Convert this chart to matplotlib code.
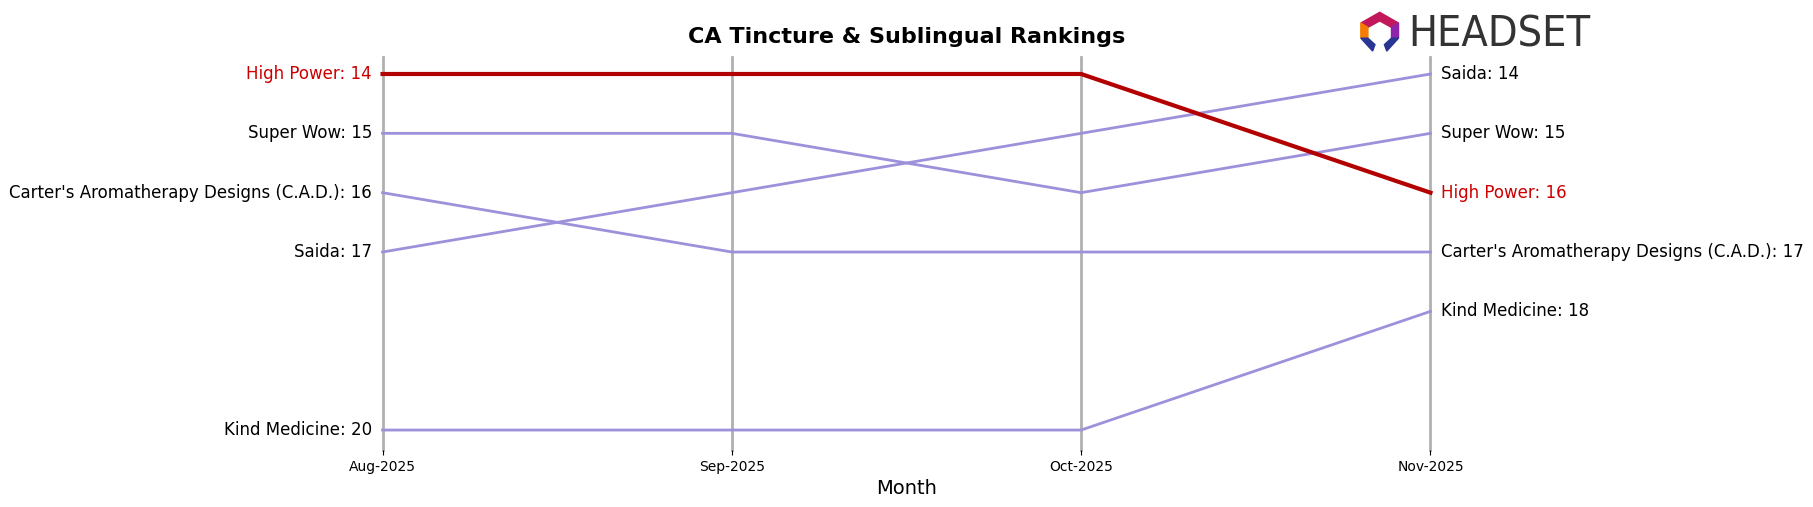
import matplotlib
matplotlib.use("Agg")
import matplotlib.pyplot as plt
from matplotlib.patches import Polygon

months = ["Aug-2025", "Sep-2025", "Oct-2025", "Nov-2025"]
brands = ["High Power", "Super Wow", "Carter's Aromatherapy Designs (C.A.D.)", "Saida", "Kind Medicine"]
ranks = {
    "High Power": [14, 14, 14, 16],
    "Super Wow": [15, 15, 16, 15],
    "Carter's Aromatherapy Designs (C.A.D.)": [16, 17, 17, 17],
    "Saida": [17, 16, 15, 14],
    "Kind Medicine": [20, 20, 20, 18],
}
highlight = "High Power"

fig = plt.figure(figsize=(18.13, 5.07), dpi=100)
ax = fig.add_axes([0.211, 0.112, 0.578, 0.776])
x = list(range(len(months)))
for xi in x:
    ax.axvline(xi, color="#b0b0b0", lw=2, zorder=0, clip_on=False)
for b in brands:
    r = ranks[b]
    if b == highlight:
        ax.plot(x, r, color="#b30000", lw=3, zorder=3, clip_on=False)
    else:
        ax.plot(x, r, color="#9d91dc", lw=2, zorder=2, clip_on=False)
    c = "#cc0000" if b == highlight else "black"
    ax.text(-0.03, r[0], f"{b}: {r[0]}", ha="right", va="center", fontsize=12, color=c)
    ax.text(3.03, r[-1], f"{b}: {r[-1]}", ha="left", va="center", fontsize=12, color=c)
ax.set_ylim(20.34, 13.71)
ax.set_xlim(0, 3)
ax.set_xticks(x)
ax.set_xticklabels(months, fontsize=10)
ax.set_yticks([])
for s in ax.spines.values():
    s.set_visible(False)
ax.set_xlabel("Month", fontsize=14)
ax.set_title("CA Tincture & Sublingual Rankings", fontsize=16, fontweight="bold", pad=10)

# logo
lax = fig.add_axes([0.748, 0.895, 0.026, 0.085])
lax.set_xlim(0, 1); lax.set_ylim(0, 1); lax.axis("off")
lax.add_patch(Polygon([[0.1,0.7],[0.5,0.95],[0.9,0.7],[0.75,0.6],[0.5,0.75],[0.25,0.6]], color="#c2185b"))
lax.add_patch(Polygon([[0.1,0.7],[0.25,0.6],[0.25,0.35],[0.1,0.35]], color="#f57c00"))
lax.add_patch(Polygon([[0.9,0.7],[0.75,0.6],[0.75,0.35],[0.9,0.35]], color="#8e24aa"))
lax.add_patch(Polygon([[0.1,0.35],[0.35,0.05],[0.4,0.2],[0.25,0.35]], color="#283593"))
lax.add_patch(Polygon([[0.9,0.35],[0.65,0.05],[0.6,0.2],[0.75,0.35]], color="#283593"))
fig.text(0.777, 0.932, "HEADSET", fontsize=31, color="#333333", va="center", ha="left",
         fontfamily="DejaVu Sans", fontstretch="condensed")
fig.savefig("out.png", dpi=100)
